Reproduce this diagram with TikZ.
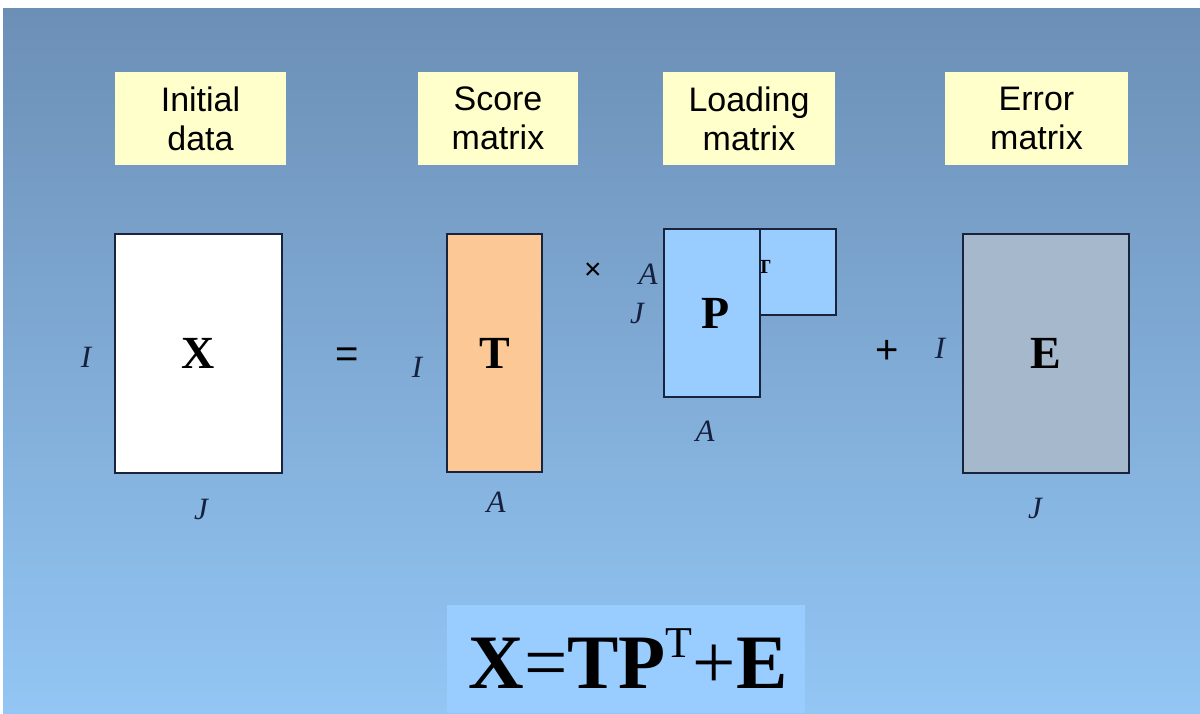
\documentclass[tikz,border=0pt]{standalone}
\usepackage{fontspec}
\setmainfont{Liberation Serif}
\setsansfont{Liberation Sans}
\definecolor{bgtop}{RGB}{108,143,182}
\definecolor{bgbot}{RGB}{147,198,244}
\definecolor{lblyellow}{RGB}{255,255,204}
\definecolor{tfill}{RGB}{252,201,150}
\definecolor{pfill}{RGB}{153,204,255}
\definecolor{efill}{RGB}{166,184,204}
\definecolor{framecol}{RGB}{25,35,60}
\definecolor{dimcol}{RGB}{22,32,62}
\definecolor{formfill}{RGB}{153,204,255}
\begin{document}
\begin{tikzpicture}[x=1pt,y=-1pt,
  headbox/.style={fill=lblyellow, draw=none, inner sep=0pt, align=center,
    font=\sffamily\fontsize{34}{39}\selectfont, text=black},
  matbox/.style={draw=framecol, line width=1.3pt, inner sep=0pt,
    font=\bfseries\fontsize{46}{46}\selectfont, text=black},
  dimlbl/.style={inner sep=0pt, text=dimcol, font=\itshape\fontsize{31}{31}\selectfont},
  oplbl/.style={inner sep=0pt, text=black, font=\sffamily\fontsize{40}{40}\selectfont}]
\useasboundingbox (0,0) rectangle (1200,713);
\fill[white] (0,0) rectangle (1200,713);
\shade[top color=bgtop, bottom color=bgbot] (3,8) rectangle (1200,713);

% header boxes
\node[headbox, minimum width=171, minimum height=93] (hInit) at (200.5,118.5) {Initial\\data};
\node[headbox, minimum width=160, minimum height=93] (hScore) at (498,118.5) {Score\\matrix};
\node[headbox, minimum width=172, minimum height=93] (hLoad) at (749,118.5) {Loading\\matrix};
\node[headbox, minimum width=183, minimum height=93] (hErr) at (1036.5,118.5) {Error\\matrix};

% X
\node[matbox, fill=white, minimum width=167, minimum height=239] (X) at (198.5,353.5) {\raisebox{-4pt}{X}};
\node[dimlbl] (XI) at (86,357) {I};
\node[dimlbl] (XJ) at (201,509) {J};
\node[oplbl] (eq) at (347,358) {=};

% T
\node[matbox, fill=tfill, minimum width=95, minimum height=238] (T) at (494.5,353) {\raisebox{-4pt}{T}};
\node[dimlbl] (TI) at (417,367) {I};
\node[dimlbl] (TA) at (496,502) {A};
\node[oplbl, font=\sffamily\fontsize{30}{30}\selectfont] (times) at (593,271) {×};

% P^T and P
\node[matbox, fill=pfill, minimum width=146, minimum height=86] (PT) at (763,272) {};
\node[inner sep=0pt, font=\bfseries\fontsize{20}{20}\selectfont, text=black] (PTsup) at (764,267) {T};
\node[matbox, fill=pfill, minimum width=96, minimum height=168] (P) at (712,313) {\raisebox{-2pt}{\hspace{8pt}P}};
\node[dimlbl] (PA1) at (648,274) {A};
\node[dimlbl] (PJ) at (637,313) {J};
\node[dimlbl] (PA2) at (705,431) {A};

% E
\node[oplbl] (plus) at (887,352) {+};
\node[dimlbl] (EI) at (940,348) {I};
\node[matbox, fill=efill, minimum width=166, minimum height=239] (E) at (1046,353.5) {\raisebox{-4pt}{E}};
\node[dimlbl] (EJ) at (1035,508) {J};

% formula
\node[fill=formfill, draw=none, inner sep=0pt, minimum width=358, minimum height=108, anchor=north west] (fbox) at (447,605) {};
\node[inner sep=0pt, anchor=base, text=black, font=\fontsize{77}{77}\selectfont] (formula) at (628,688)
  {\textbf{X}=\textbf{TP}\raisebox{31pt}{\fontsize{44}{44}\selectfont T}+\textbf{E}};
\end{tikzpicture}
\end{document}
